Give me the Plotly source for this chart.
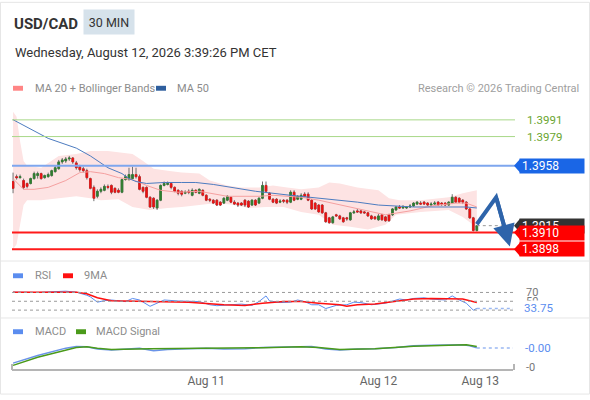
import plotly.graph_objects as go
from plotly.subplots import make_subplots

# ---- chart data ----
pair = "USD/CAD"
timeframe = "30 MIN"
stamp = "Wednesday, August 12, 2026 3:39:26 PM CET"

opens = [
    1.39467, 1.39502, 1.39495, 1.39474, 1.39453, 1.39453, 1.39488, 1.39510, 1.39524, 1.39495,
    1.39502, 1.39510, 1.39538, 1.39559, 1.39608, 1.39615, 1.39629, 1.39636, 1.39601, 1.39573,
    1.39559, 1.39545, 1.39488, 1.39425, 1.39361, 1.39397, 1.39404, 1.39432, 1.39439, 1.39418,
    1.39404, 1.39390, 1.39481, 1.39481, 1.39488, 1.39517, 1.39502, 1.39425, 1.39425, 1.39354,
    1.39347, 1.39277, 1.39333, 1.39439, 1.39446, 1.39453, 1.39425, 1.39404, 1.39397, 1.39383,
    1.39397, 1.39368, 1.39404, 1.39383, 1.39404, 1.39368, 1.39340, 1.39333, 1.39333, 1.39319,
    1.39312, 1.39333, 1.39354, 1.39319, 1.39312, 1.39312, 1.39333, 1.39326, 1.39298, 1.39333,
    1.39312, 1.39347, 1.39439, 1.39383, 1.39340, 1.39340, 1.39319, 1.39333, 1.39333, 1.39319,
    1.39390, 1.39340, 1.39340, 1.39376, 1.39376, 1.39333, 1.39312, 1.39298, 1.39298, 1.39242,
    1.39206, 1.39171, 1.39228, 1.39220, 1.39206, 1.39206, 1.39192, 1.39242, 1.39256, 1.39256,
    1.39249, 1.39242, 1.39220, 1.39213, 1.39192, 1.39228, 1.39213, 1.39228, 1.39228, 1.39263,
    1.39284, 1.39277, 1.39277, 1.39284, 1.39291, 1.39305, 1.39312, 1.39319, 1.39312, 1.39298,
    1.39305, 1.39319, 1.39312, 1.39312, 1.39298, 1.39312, 1.39354, 1.39347, 1.39333, 1.39319,
    1.39270, 1.39206, 1.39115]
highs = [
    1.39531, 1.39517, 1.39517, 1.39488, 1.39460, 1.39495, 1.39538, 1.39538, 1.39531, 1.39517,
    1.39531, 1.39552, 1.39580, 1.39622, 1.39636, 1.39643, 1.39651, 1.39643, 1.39615, 1.39587,
    1.39573, 1.39559, 1.39495, 1.39439, 1.39411, 1.39425, 1.39446, 1.39446, 1.39446, 1.39425,
    1.39418, 1.39488, 1.39517, 1.39566, 1.39573, 1.39566, 1.39517, 1.39432, 1.39432, 1.39361,
    1.39354, 1.39340, 1.39446, 1.39467, 1.39467, 1.39460, 1.39432, 1.39411, 1.39404, 1.39404,
    1.39411, 1.39418, 1.39411, 1.39418, 1.39411, 1.39376, 1.39347, 1.39340, 1.39340, 1.39326,
    1.39354, 1.39368, 1.39361, 1.39333, 1.39319, 1.39319, 1.39340, 1.39333, 1.39340, 1.39340,
    1.39354, 1.39467, 1.39467, 1.39390, 1.39347, 1.39347, 1.39340, 1.39340, 1.39340, 1.39404,
    1.39404, 1.39368, 1.39383, 1.39390, 1.39390, 1.39340, 1.39319, 1.39305, 1.39305, 1.39249,
    1.39213, 1.39220, 1.39235, 1.39228, 1.39213, 1.39213, 1.39249, 1.39263, 1.39270, 1.39263,
    1.39256, 1.39249, 1.39228, 1.39220, 1.39235, 1.39235, 1.39220, 1.39235, 1.39277, 1.39291,
    1.39298, 1.39298, 1.39291, 1.39305, 1.39319, 1.39326, 1.39326, 1.39326, 1.39319, 1.39319,
    1.39326, 1.39326, 1.39319, 1.39319, 1.39326, 1.39376, 1.39361, 1.39354, 1.39340, 1.39326,
    1.39277, 1.39213, 1.39150]
lows = [
    1.39383, 1.39481, 1.39488, 1.39411, 1.39418, 1.39446, 1.39481, 1.39488, 1.39481, 1.39488,
    1.39495, 1.39502, 1.39531, 1.39552, 1.39594, 1.39601, 1.39615, 1.39594, 1.39552, 1.39538,
    1.39531, 1.39481, 1.39411, 1.39326, 1.39347, 1.39383, 1.39397, 1.39411, 1.39376, 1.39383,
    1.39383, 1.39383, 1.39474, 1.39474, 1.39481, 1.39488, 1.39404, 1.39383, 1.39347, 1.39277,
    1.39270, 1.39263, 1.39326, 1.39432, 1.39439, 1.39411, 1.39390, 1.39368, 1.39361, 1.39376,
    1.39376, 1.39361, 1.39383, 1.39376, 1.39361, 1.39326, 1.39319, 1.39305, 1.39291, 1.39291,
    1.39305, 1.39326, 1.39312, 1.39298, 1.39284, 1.39291, 1.39284, 1.39277, 1.39291, 1.39291,
    1.39305, 1.39340, 1.39390, 1.39333, 1.39312, 1.39305, 1.39312, 1.39312, 1.39305, 1.39312,
    1.39326, 1.39333, 1.39333, 1.39354, 1.39326, 1.39263, 1.39263, 1.39242, 1.39235, 1.39171,
    1.39164, 1.39164, 1.39213, 1.39192, 1.39171, 1.39185, 1.39185, 1.39235, 1.39242, 1.39235,
    1.39235, 1.39213, 1.39192, 1.39192, 1.39185, 1.39185, 1.39178, 1.39178, 1.39220, 1.39256,
    1.39270, 1.39270, 1.39270, 1.39277, 1.39284, 1.39298, 1.39298, 1.39298, 1.39291, 1.39291,
    1.39298, 1.39291, 1.39291, 1.39291, 1.39291, 1.39305, 1.39312, 1.39312, 1.39305, 1.39263,
    1.39199, 1.39108, 1.39108]
closes = [
    1.39418, 1.39495, 1.39502, 1.39425, 1.39432, 1.39488, 1.39524, 1.39524, 1.39488, 1.39510,
    1.39517, 1.39545, 1.39566, 1.39608, 1.39622, 1.39629, 1.39636, 1.39608, 1.39566, 1.39552,
    1.39545, 1.39495, 1.39418, 1.39347, 1.39397, 1.39411, 1.39432, 1.39425, 1.39390, 1.39390,
    1.39390, 1.39481, 1.39502, 1.39517, 1.39517, 1.39502, 1.39411, 1.39397, 1.39354, 1.39284,
    1.39284, 1.39333, 1.39439, 1.39453, 1.39453, 1.39425, 1.39397, 1.39383, 1.39376, 1.39390,
    1.39390, 1.39404, 1.39390, 1.39411, 1.39368, 1.39333, 1.39333, 1.39312, 1.39298, 1.39298,
    1.39347, 1.39361, 1.39319, 1.39305, 1.39298, 1.39298, 1.39298, 1.39284, 1.39333, 1.39298,
    1.39347, 1.39439, 1.39397, 1.39340, 1.39319, 1.39312, 1.39326, 1.39326, 1.39319, 1.39390,
    1.39333, 1.39361, 1.39368, 1.39361, 1.39333, 1.39270, 1.39270, 1.39249, 1.39242, 1.39178,
    1.39171, 1.39213, 1.39220, 1.39199, 1.39178, 1.39199, 1.39242, 1.39249, 1.39249, 1.39242,
    1.39242, 1.39220, 1.39199, 1.39199, 1.39220, 1.39192, 1.39185, 1.39185, 1.39270, 1.39284,
    1.39277, 1.39284, 1.39284, 1.39291, 1.39312, 1.39319, 1.39305, 1.39305, 1.39298, 1.39305,
    1.39312, 1.39298, 1.39305, 1.39298, 1.39319, 1.39354, 1.39319, 1.39319, 1.39319, 1.39270,
    1.39206, 1.39115, 1.39150]
idx = list(range(len(closes)))

ma20_x = [0, 3, 6, 10, 15, 19, 22, 26, 30, 34, 38, 42, 47, 53, 61, 70, 74, 82, 87, 91,
          96, 101, 106, 113, 119, 126, 129, 132]
ma20 = [1.39488, 1.39411, 1.39411, 1.39425, 1.39474, 1.39531, 1.39538, 1.39524, 1.39495, 1.39481,
        1.39439, 1.39404, 1.39390, 1.39397, 1.39361, 1.39361, 1.39368, 1.39354, 1.39333, 1.39312,
        1.39284, 1.39256, 1.39228, 1.39256, 1.39291, 1.39312, 1.39312, 1.39284]

ma50_x = [0, 10, 18, 22, 27, 31, 33, 35, 38, 43, 48, 52, 57, 62, 69, 79, 88, 98, 104, 114,
          124, 129, 132]
ma50 = [1.39911, 1.39777, 1.39707, 1.39651, 1.39566, 1.39524, 1.39488, 1.39467, 1.39453, 1.39460,
        1.39460, 1.39460, 1.39446, 1.39425, 1.39397, 1.39368, 1.39347, 1.39319, 1.39298, 1.39284,
        1.39284, 1.39284, 1.39277]

bb_up_x = [0, 1, 2, 3, 4, 8, 13, 18, 22, 27, 34, 37, 40, 44, 48, 53, 56, 61, 65, 70,
           74, 78, 82, 87, 90, 93, 98, 104, 107, 110, 116, 124, 128, 132]
bb_up = [1.39968, 1.39933, 1.39756, 1.39615, 1.39580, 1.39566, 1.39651, 1.39665, 1.39686, 1.39686,
         1.39665, 1.39615, 1.39559, 1.39545, 1.39531, 1.39524, 1.39474, 1.39439, 1.39425, 1.39425,
         1.39439, 1.39425, 1.39411, 1.39425, 1.39460, 1.39453, 1.39425, 1.39404, 1.39347, 1.39333,
         1.39333, 1.39354, 1.39383, 1.39404]
bb_lo_x = [0, 1, 2, 3, 4, 8, 13, 18, 22, 25, 30, 34, 39, 44, 48, 53, 58, 63, 67, 72,
           77, 82, 87, 91, 96, 101, 106, 109, 116, 124, 128, 132]
bb_lo = [1.38981, 1.39016, 1.39157, 1.39298, 1.39333, 1.39333, 1.39347, 1.39361, 1.39347, 1.39333,
         1.39340, 1.39284, 1.39263, 1.39277, 1.39284, 1.39298, 1.39312, 1.39298, 1.39277, 1.39284,
         1.39284, 1.39249, 1.39228, 1.39157, 1.39143, 1.39122, 1.39157, 1.39228, 1.39249, 1.39263,
         1.39213, 1.39136]

rsi_x = [0, 7, 15, 18, 21, 22, 24, 26, 28, 32, 34, 36, 39, 41, 43, 47, 50, 53, 56, 58,
         62, 65, 68, 70, 72, 73, 76, 79, 81, 83, 85, 87, 89, 92, 95, 97, 99, 102, 106, 108,
         110, 112, 114, 117, 119, 123, 125, 127, 129, 131, 132]
rsi = [70.7, 70.0, 72.9, 70.7, 63.6, 60.0, 47.9, 51.4, 52.9, 49.3, 56.4, 52.9, 38.6, 45.7, 52.9,
       50.7, 49.3, 49.3, 42.1, 40.0, 42.1, 43.6, 40.7, 49.3, 62.1, 50.7, 47.1, 47.9, 52.9, 49.3,
       42.1, 42.1, 33.6, 40.7, 42.1, 47.9, 47.1, 42.1, 45.7, 50.7, 55.0, 52.9, 56.4, 57.9, 55.0,
       52.9, 62.1, 52.9, 45.7, 30.0, 33.75]
rsi_ma_x = [0, 18, 21, 24, 28, 34, 39, 44, 50, 55, 60, 66, 71, 77, 82, 87, 93, 95, 98, 103,
            109, 114, 119, 125, 128, 132]
rsi_ma = [70.7, 70.7, 67.1, 57.9, 51.4, 50.7, 49.3, 49.3, 47.9, 45.0, 42.1, 40.7, 45.7, 49.3,
          49.3, 45.7, 42.1, 38.6, 42.1, 43.6, 49.3, 55.0, 56.4, 56.4, 55.0, 47.1]

macd_x = [0, 7, 15, 18, 21, 24, 28, 34, 36, 40, 44, 50, 55, 60, 66, 71, 77, 82, 85, 89,
          93, 98, 103, 109, 114, 119, 125, 128, 130, 132]
macd = [-0.000308, -0.000165, -0.000025, 0.000007, 0.000001, -0.000043, -0.000061, -0.000043,
        -0.000025, -0.000073, -0.000049, -0.000036, -0.000025, -0.000043, -0.000036, -0.000011,
        0.000001, 0.000001, 0.000007, -0.000043, -0.000061, -0.000043, -0.000036, -0.000011,
        0.000020, 0.000031, 0.000038, 0.000038, 0.000020, -0.000020]
sig_x = [0, 7, 18, 21, 24, 28, 39, 50, 60, 71, 82, 87, 93, 103, 114, 125, 129, 132]
sig = [-0.00035, -0.000197, -0.000011, 0.000001, -0.000025, -0.000049, -0.000036, -0.00003,
       -0.000036, -0.000018, 0.000001, -0.000011, -0.000049, -0.000036, 0.000013, 0.000038,
       0.000038, 0.000007]

resistances = [1.3991, 1.3979]
pivot = 1.3958
supports = [1.3910, 1.3898]
last_price = 1.3915
rsi_levels = [70, 50, 30]
macd_tick = -0.0004
date_ticks = [55, 104, 133]
date_labels = ["Aug 11", "Aug 12", "Aug 13"]
forecast_x = [132, 137.5, 141.4]
forecast_y = [1.3916, 1.39354, 1.3900]

# ---- layout helpers ----
X_MIN, X_MAX = -0.3, 142.3
FONT = "Roboto, Arial, sans-serif"
GREEN, RED, WICK = "#2f7f2f", "#ee1111", "#707070"
BLUE_TAG, RED_TAG = "#1a66e6", "#ff0000"
RSI_BLUE = "#5b8def"


def px_x(px):
    return (px - 12) / 501


def px_y(px):
    return (373 - px) / 273


fig = make_subplots(rows=3, cols=1, shared_xaxes=True)

# moving averages
fig.add_trace(go.Scatter(x=ma20_x, y=ma20, mode="lines", line=dict(color="#f5a0a0", width=1)),
              row=1, col=1)
fig.add_trace(go.Scatter(x=ma50_x, y=ma50, mode="lines", line=dict(color="#4d7cc0", width=1)),
              row=1, col=1)

# candles: wicks first, then coloured bodies on top
fig.add_trace(go.Candlestick(x=idx, open=opens, high=highs, low=lows, close=closes,
                             increasing=dict(line=dict(color=WICK, width=1), fillcolor=WICK),
                             decreasing=dict(line=dict(color=WICK, width=1), fillcolor=WICK)),
              row=1, col=1)
body_hi = [max(o, c) for o, c in zip(opens, closes)]
body_lo = [min(o, c) for o, c in zip(opens, closes)]
fig.add_trace(go.Candlestick(x=idx, open=opens, high=body_hi, low=body_lo, close=closes,
                             increasing=dict(line=dict(color=GREEN, width=0.6), fillcolor=GREEN),
                             decreasing=dict(line=dict(color=RED, width=0.6), fillcolor=RED)),
              row=1, col=1)

# RSI
fig.add_trace(go.Scatter(x=rsi_x, y=rsi, mode="lines", line=dict(color=RSI_BLUE, width=1)),
              row=2, col=1)
fig.add_trace(go.Scatter(x=rsi_ma_x, y=rsi_ma, mode="lines", line=dict(color="#ff1010", width=1.5)),
              row=2, col=1)

# MACD
fig.add_trace(go.Scatter(x=macd_x, y=macd, mode="lines", line=dict(color="#6a93e8", width=1.5)),
              row=3, col=1)
fig.add_trace(go.Scatter(x=sig_x, y=sig, mode="lines", line=dict(color="#4a9a1a", width=1.5)),
              row=3, col=1)

shapes = []
ann = []

# bollinger band as a filled polygon beneath the candles
band_pts = list(zip(bb_up_x, bb_up)) + list(zip(bb_lo_x, bb_lo))[::-1]
band_path = "M " + " L ".join("%s,%s" % p for p in band_pts) + " Z"
shapes.append(dict(type="path", xref="x", yref="y", path=band_path, layer="below",
                   fillcolor="#fde3e3", line=dict(width=0)))

# frame and panel separators
shapes.append(dict(type="rect", xref="paper", yref="paper", x0=px_x(0.5), x1=px_x(589.5),
                   y0=px_y(397.5), y1=px_y(-1.5), line=dict(color="#e6e6e6", width=1)))
for sy in [262, 320]:
    shapes.append(dict(type="line", xref="paper", yref="paper", x0=px_x(0.5), x1=px_x(589.5),
                       y0=px_y(sy), y1=px_y(sy), line=dict(color="#e6e6e6", width=1)))

# header
ann.append(dict(text="<b>%s</b>" % pair, x=0, y=px_y(21), xanchor="left", yanchor="middle",
                font=dict(size=15, color="#333333")))
ann.append(dict(text=timeframe, x=px_x(83), y=px_y(19), xanchor="left", yanchor="middle",
                bgcolor="#d6e2eb", width=50, height=24, borderpad=0,
                font=dict(size=12.5, color="#333333")))
ann.append(dict(text=stamp, x=px_x(13), y=px_y(50), xanchor="left", yanchor="middle",
                font=dict(size=13, color="#333333")))


def legend_item(x_sw, x_txt, y, color, label):
    shapes.append(dict(type="rect", xref="paper", yref="paper", x0=px_x(x_sw), x1=px_x(x_sw + 10),
                       y0=px_y(y + 2.5), y1=px_y(y - 2.5), line=dict(width=0), fillcolor=color))
    ann.append(dict(text=label, x=px_x(x_txt), y=px_y(y), xanchor="left", yanchor="middle",
                    font=dict(size=11, color="#8c8c8c")))


legend_item(13, 33, 86, "#ff8585", "MA 20 + Bollinger Bands")
legend_item(156, 175, 86, "#2f5f9e", "MA 50")
legend_item(13, 33, 277, RSI_BLUE, "RSI")
legend_item(63, 82, 277, "#ff1010", "9MA")
legend_item(13, 33, 334, RSI_BLUE, "MACD")
legend_item(76, 94, 334, "#4a9a1a", "MACD Signal")
ann.append(dict(text="Research \u00a9 2026 Trading Central", x=px_x(581), y=px_y(86),
                xanchor="right", yanchor="middle", font=dict(size=11, color="#a0a0a0")))

# price levels
for lv in resistances:
    shapes.append(dict(type="line", xref="paper", yref="y", x0=0, x1=px_x(515), y0=lv, y1=lv,
                       line=dict(color="#a8d888", width=1)))
    ann.append(dict(text="%.4f" % lv, x=px_x(525), y=lv, yref="y", xanchor="left",
                    yanchor="middle", font=dict(size=11.5, color="#6aa530")))

shapes.append(dict(type="line", xref="x", yref="y", x0=idx[-1], x1=X_MAX, y0=last_price,
                   y1=last_price, line=dict(color="#9a9a9a", width=1, dash="dot")))
shapes.append(dict(type="line", xref="paper", yref="y", x0=0, x1=px_x(516), y0=pivot, y1=pivot,
                   line=dict(color="#7ea6ee", width=2)))
for lv in supports:
    shapes.append(dict(type="line", xref="paper", yref="y", x0=0, x1=px_x(516), y0=lv, y1=lv,
                       line=dict(color="#ff1a1a", width=2)))

HALF = 0.00049  # half tag height in price units


def tag(value, color):
    shapes.append(dict(type="path", xref="paper", yref="y", fillcolor=color, line=dict(width=0),
                       path="M %f,%f L %f,%f L %f,%f Z" % (px_x(520), value + HALF, px_x(514),
                                                           value, px_x(520), value - HALF)))
    ann.append(dict(text="%.4f" % value, x=px_x(519), y=value, yref="y", xanchor="left",
                    yanchor="middle", bgcolor=color, width=60, height=10, borderpad=2,
                    align="left", font=dict(size=12, color="white")))


tag(pivot, BLUE_TAG)
tag(last_price, "#333333")
for lv in supports:
    tag(lv, RED_TAG)

# forecast arrow
t = 0.6
mid_x = forecast_x[1] + (forecast_x[2] - forecast_x[1]) * t
mid_y = forecast_y[1] + (forecast_y[2] - forecast_y[1]) * t
shapes.append(dict(type="path", xref="x", yref="y", line=dict(color="#2e64aa", width=4),
                   path="M %f,%f L %f,%f L %f,%f" % (forecast_x[0], forecast_y[0], forecast_x[1],
                                                     forecast_y[1], mid_x, mid_y)))
ann.append(dict(text="", x=forecast_x[2], y=forecast_y[2], xref="x", yref="y",
                ax=forecast_x[1], ay=forecast_y[1], axref="x", ayref="y", showarrow=True,
                arrowhead=2, arrowsize=1.1, arrowwidth=4, arrowcolor="#2e64aa", standoff=0))

# RSI guides and labels
for lv in rsi_levels:
    shapes.append(dict(type="line", xref="paper", yref="y2", x0=0, x1=1, y0=lv, y1=lv,
                       line=dict(color="#9a9a9a", width=1, dash="dot")))
for lv in rsi_levels[:2]:
    ann.append(dict(text=str(lv), x=px_x(524), y=lv, yref="y2", xanchor="left", yanchor="middle",
                    font=dict(size=11, color="#777777")))
shapes.append(dict(type="line", xref="x2", yref="y2", x0=rsi_x[-1], x1=X_MAX, y0=rsi[-1],
                   y1=rsi[-1], line=dict(color="#9ab8f2", width=1.5, dash="dot")))
ann.append(dict(text="%.2f" % rsi[-1], x=px_x(523), y=rsi[-1], yref="y2", xanchor="left",
                yanchor="middle", bgcolor="white", borderpad=0, font=dict(size=11.5, color=RSI_BLUE)))

# MACD labels
shapes.append(dict(type="line", xref="x3", yref="y3", x0=macd_x[-1], x1=X_MAX, y0=macd[-1],
                   y1=macd[-1], line=dict(color="#9ab8f2", width=1.5, dash="dot")))
ann.append(dict(text="%.2f" % macd[-1], x=px_x(523), y=macd[-1], yref="y3", xanchor="left",
                yanchor="middle", font=dict(size=11.5, color=RSI_BLUE)))
ann.append(dict(text="%.0f" % macd_tick, x=px_x(524), y=macd_tick, yref="y3", xanchor="left",
                yanchor="middle", font=dict(size=11, color="#777777")))

# x axis end ticks
for ex in [0, px_x(514)]:
    shapes.append(dict(type="line", xref="paper", yref="paper", x0=ex, x1=ex, y0=0,
                       y1=px_y(367), line=dict(color="#b5b5b5", width=2)))

for a in ann:
    a.setdefault("xref", "paper")
    a.setdefault("yref", "paper")
    a.setdefault("showarrow", False)

fig.update_layout(width=590, height=400, margin=dict(l=12, r=77, t=102, b=25),
                  paper_bgcolor="white", plot_bgcolor="white", showlegend=False,
                  font=dict(family=FONT), shapes=shapes, annotations=ann,
                  yaxis=dict(domain=[0.4212, 0.9853], range=[1.38924, 1.40010]),
                  yaxis2=dict(domain=[0.2088, 0.326], range=[21.1, 92.2]),
                  yaxis3=dict(domain=[0.0037, 0.1209], range=[-0.000419, 0.000174]))
fig.update_xaxes(range=[X_MIN, X_MAX], showgrid=False, zeroline=False,
                 rangeslider_visible=False, showticklabels=False, fixedrange=True)
fig.update_xaxes(row=3, col=1, showticklabels=True, tickvals=date_ticks, ticktext=date_labels,
                 showline=True, linecolor="#b5b5b5", linewidth=2, ticks="",
                 tickfont=dict(size=12, color="#666666"))
fig.update_yaxes(visible=False, fixedrange=True)

fig.write_html("out.html", config={"displayModeBar": False},
               post_script="document.body.style.margin='0';")
